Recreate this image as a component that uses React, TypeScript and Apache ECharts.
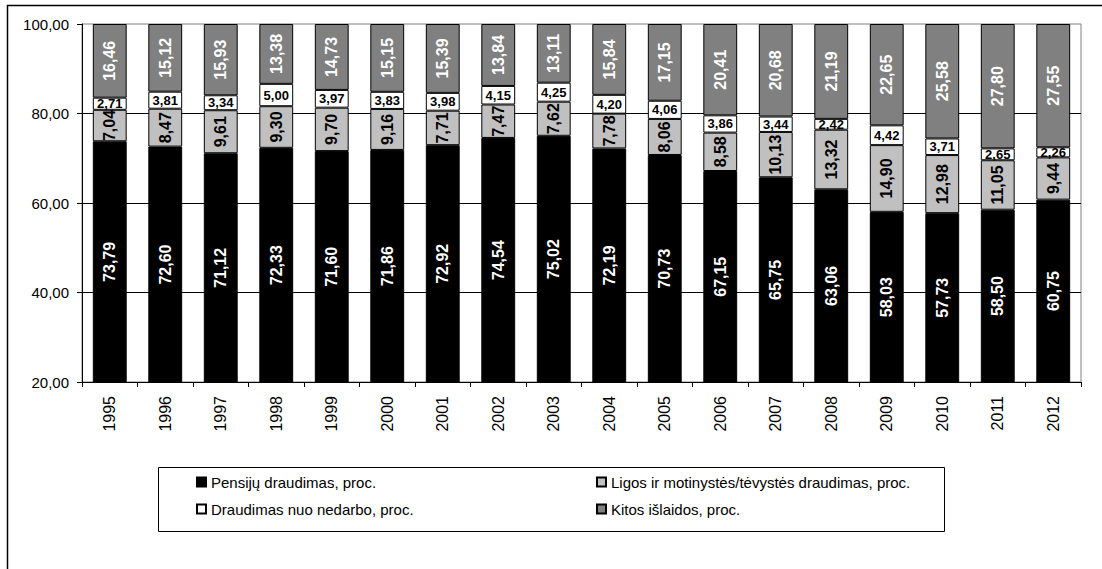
import React, { useEffect, useRef } from "react";
import * as echarts from "echarts";

const years = ["1995","1996","1997","1998","1999","2000","2001","2002","2003","2004","2005","2006","2007","2008","2009","2010","2011","2012"];
const pension = [73.79,72.60,71.12,72.33,71.60,71.86,72.92,74.54,75.02,72.19,70.73,67.15,65.75,63.06,58.03,57.73,58.50,60.75];
const sickness = [7.04,8.47,9.61,9.30,9.70,9.16,7.71,7.47,7.62,7.78,8.06,8.58,10.13,13.32,14.90,12.98,11.05,9.44];
const unemployment = [2.71,3.81,3.34,5.00,3.97,3.83,3.98,4.15,4.25,4.20,4.06,3.86,3.44,2.42,4.42,3.71,2.65,2.26];
const other = [16.46,15.12,15.93,13.38,14.73,15.15,15.39,13.84,13.11,15.84,17.15,20.41,20.68,21.19,22.65,25.58,27.80,27.55];

const names = [
  "Pensijų draudimas, proc.",
  "Ligos ir motinystės/tėvystės draudimas, proc.",
  "Draudimas nuo nedarbo, proc.",
  "Kitos išlaidos, proc.",
];

const FONT = "'Liberation Sans', Arial, sans-serif";
const fmt = (v: number) => v.toFixed(2).replace(".", ",");

export default function App() {
  const ref = useRef<HTMLDivElement>(null);
  useEffect(() => {
    if (!ref.current) return;
    const chart = echarts.init(ref.current, null, { renderer: "svg" });
    const mkSeries = (name: string, data: number[], color: string, labelColor: string, rotate: number, fontSize: number) => ({
      name,
      type: "bar",
      stack: "total",
      data,
      barCategoryGap: "39%",
      clip: true,
      itemStyle: { color, borderColor: "#000", borderWidth: 1 },
      label: {
        show: true,
        position: "inside",
        rotate,
        color: labelColor,
        fontWeight: "bold",
        fontSize,
        fontFamily: FONT,
        formatter: (p: any) => fmt(p.value),
      },
    });
    const legendText = { fontSize: 15, color: "#000", fontFamily: FONT, lineHeight: 18 };
    chart.setOption({
      animation: false,
      textStyle: { fontFamily: FONT },
      grid: { left: 82, right: 21, top: 24, bottom: 187, show: true, borderColor: "#808080", borderWidth: 1, backgroundColor: "transparent" },
      xAxis: {
        type: "category",
        data: years,
        axisLine: { lineStyle: { color: "#000", width: 1 } },
        axisTick: { show: true, length: 5, interval: 0, lineStyle: { color: "#000" } },
        axisLabel: { rotate: 90, fontSize: 16, color: "#000", fontFamily: FONT, margin: 14, interval: 0 },
      },
      yAxis: {
        type: "value",
        min: 20,
        max: 100,
        interval: 20,
        axisLine: { show: true, lineStyle: { color: "#000", width: 1 } },
        axisTick: { show: true, length: 5, lineStyle: { color: "#000" } },
        axisLabel: { fontSize: 15, color: "#000", fontFamily: FONT, margin: 13, formatter: (v: number) => fmt(v) },
        splitLine: { show: true, showMaxLine: false, showMinLine: false, lineStyle: { color: "#000", width: 1 } },
      },
      legend: [
        {
          data: [names[0], names[2]],
          orient: "vertical",
          left: 196,
          top: 473,
          padding: 0,
          itemGap: 9,
          itemWidth: 9,
          itemHeight: 9,
          icon: "rect",
          selectedMode: false,
          textStyle: legendText,
        },
        {
          data: [names[1], names[3]],
          orient: "vertical",
          left: 596,
          top: 473,
          padding: 0,
          itemGap: 9,
          itemWidth: 9,
          itemHeight: 9,
          icon: "rect",
          selectedMode: false,
          textStyle: legendText,
        },
      ],
      graphic: [
        { type: "rect", silent: true, shape: { x: 7.5, y: 5.5, width: 1200, height: 700 }, style: { fill: "none", stroke: "#000", lineWidth: 1.5 } },
        { type: "rect", silent: true, shape: { x: 158.5, y: 467.5, width: 786, height: 64 }, style: { fill: "none", stroke: "#000", lineWidth: 1 } },
      ],
      series: [
        mkSeries(names[0], pension, "#000000", "#ffffff", 90, 16),
        mkSeries(names[1], sickness, "#c0c0c0", "#000000", 90, 16),
        mkSeries(names[2], unemployment, "#ffffff", "#000000", 0, 13),
        mkSeries(names[3], other, "#808080", "#ffffff", 90, 16),
      ],
    });
    return () => chart.dispose();
  }, []);
  return <div ref={ref} style={{ position: "fixed", left: 0, top: 0, width: 1102, height: 569, background: "#fff" }} />;
}
